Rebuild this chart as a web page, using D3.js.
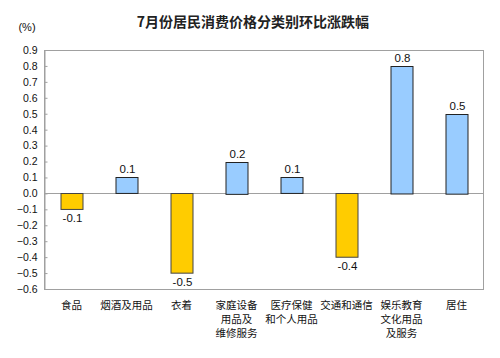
<!DOCTYPE html>
<html><head><meta charset="utf-8">
<script src="https://cdn.jsdelivr.net/npm/d3@7"></script>
<style>body{margin:0;background:#fff;} svg{display:block;}</style>
</head><body>
<script>
const categories = ["食品","烟酒及用品","衣着","家庭设备\n用品及\n维修服务","医疗保健\n和个人用品","交通和通信","娱乐教育\n文化用品\n及服务","居住"];
const values = [-0.1, 0.1, -0.5, 0.2, 0.1, -0.4, 0.8, 0.5];
const yTicks = [0.9,0.8,0.7,0.6,0.5,0.4,0.3,0.2,0.1,0.0,-0.1,-0.2,-0.3,-0.4,-0.5,-0.6];
const title = "7月份居民消费价格分类别环比涨跌幅";
const unit = "(%)";

const W=500,H=358;
const m={l:44,r:16,t:50,b:69};
const svg=d3.select("body").append("svg").attr("width",W).attr("height",H);
const font="'Liberation Sans', Arial, 'Noto Sans CJK SC', sans-serif";

const x=d3.scaleBand().domain(categories).range([m.l,W-m.r]).paddingInner(0).paddingOuter(0);
const y=d3.scaleLinear().domain([-0.6,0.9]).range([H-m.b,m.t]);

// frame
svg.append("rect").attr("x",m.l+0.5).attr("y",y(0.9)+0.5).attr("width",W-m.r-m.l-1).attr("height",y(-0.6)-y(0.9))
  .attr("fill","none").attr("stroke","#a0a0a0").attr("stroke-width",1);

// y axis
const yAxis=d3.axisLeft(y).tickValues(yTicks).tickFormat(d3.format(".1f")).tickSizeInner(-3).tickSizeOuter(0).tickPadding(7);
const ga=svg.append("g").attr("transform",`translate(${m.l+0.5},0)`).call(yAxis);
ga.select(".domain").attr("stroke","#a0a0a0");
ga.selectAll(".tick line").attr("stroke","#a0a0a0");
ga.selectAll(".tick text").attr("font-family",font).attr("font-size",10.5).attr("fill","#111");

// zero line
svg.append("line").attr("x1",m.l).attr("x2",W-m.r).attr("y1",Math.round(y(0))+0.5).attr("y2",Math.round(y(0))+0.5)
  .attr("stroke","#a0a0a0").attr("stroke-width",1.2);

// bars
const bw=22;
svg.selectAll("rect.bar").data(values).enter().append("rect").attr("class","bar")
  .attr("x",(d,i)=>x(categories[i])+x.bandwidth()/2-bw/2+0.5)
  .attr("y",d=>Math.round(y(Math.max(0,d)))+0.5)
  .attr("width",bw)
  .attr("height",d=>Math.abs(y(d)-y(0)))
  .attr("fill",d=>d>=0?"#99ccff":"#ffcc00")
  .attr("stroke",d=>d>=0?"#222":"#444").attr("stroke-width",1);

// value labels
svg.selectAll("text.val").data(values).enter().append("text").attr("class","val")
  .attr("x",(d,i)=>x(categories[i])+x.bandwidth()/2+1)
  .attr("y",d=>d>=0?y(d)-4:y(d)+13)
  .attr("text-anchor","middle").attr("font-family",font).attr("font-size",11.5).attr("fill","#111")
  .text(d=>d.toFixed(1));

// category labels
categories.forEach((c,i)=>{
  const t=svg.append("text").attr("x",x(c)+x.bandwidth()/2).attr("y",309)
    .attr("text-anchor","middle").attr("font-family","'Noto Sans CJK SC', sans-serif").attr("font-size",10.5).attr("fill","#111");
  c.split("\n").forEach((ln,j)=>{
    t.append("tspan").attr("x",x(c)+x.bandwidth()/2).attr("dy",j===0?0:14).text(ln);
  });
});

// title
svg.append("text").attr("x",253).attr("y",27).attr("text-anchor","middle")
  .attr("font-family","'Noto Sans CJK SC', sans-serif").attr("font-size",14).attr("font-weight","bold").attr("fill","#222").text(title);
svg.append("text").attr("x",27).attr("y",31).attr("text-anchor","middle")
  .attr("font-family",font).attr("font-size",11).attr("fill","#111").text(unit);
</script>
</body></html>
